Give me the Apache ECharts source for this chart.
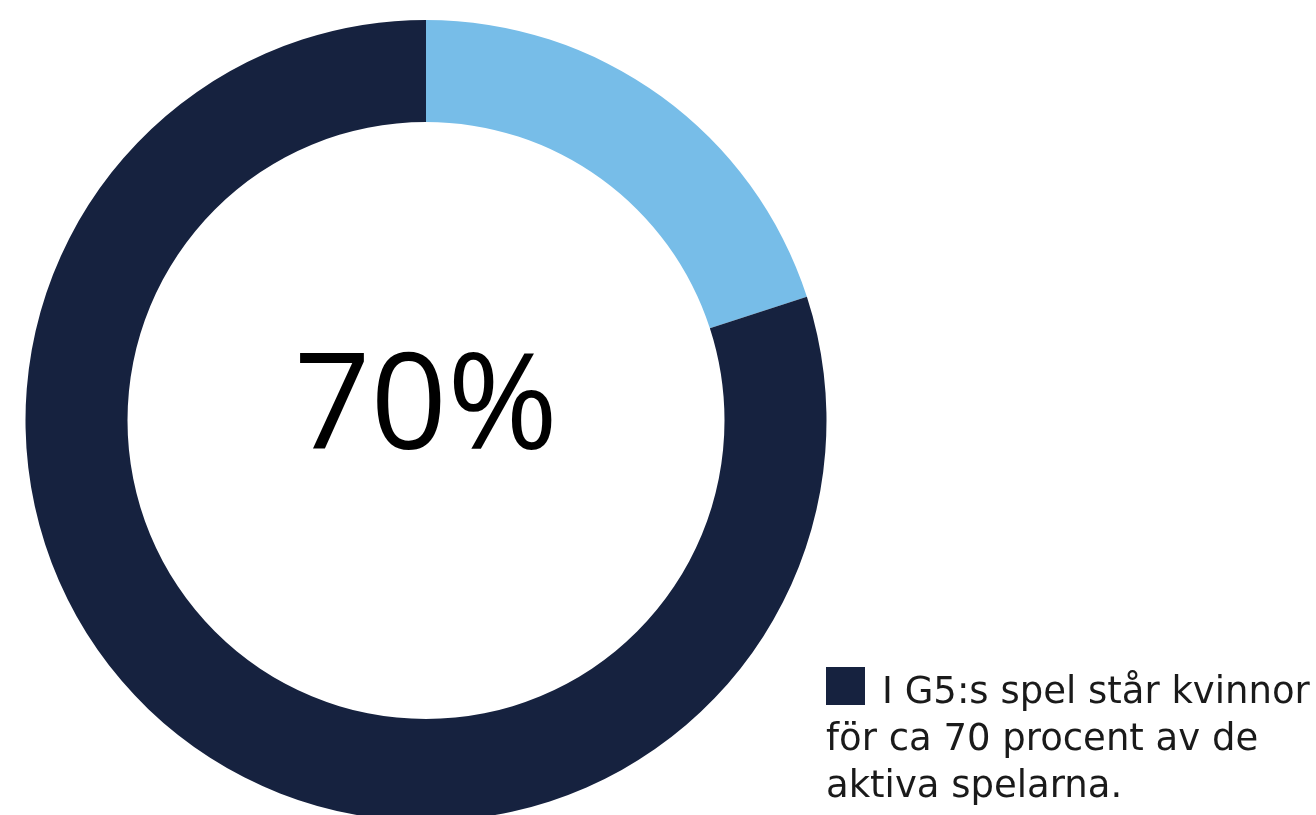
<!DOCTYPE html>
<html>
<head>
<meta charset="utf-8">
<script src="https://cdn.jsdelivr.net/npm/echarts@6/dist/echarts.min.js"></script>
<style>
  html, body { margin: 0; padding: 0; background: #ffffff; }
  #chart { width: 1316px; height: 815px; }
</style>
</head>
<body>
<div id="chart"></div>
<script>
// Share of active players in G5's games
const categories = ['Övriga', 'Kvinnor'];
const values = [20, 80];
const colors = ['#77BDE8', '#16223F'];
const centerLabel = '70%';
const legendLines = ['I G5:s spel står kvinnor', 'för ca 70 procent av de', 'aktiva spelarna.'];

const CENTER_FONT = '"Open Sans", "Noto Sans", sans-serif';
const TEXT_FONT = '"DejaVu Sans", "Open Sans", sans-serif';
const TEXT_SIZE = 37;

const chart = echarts.init(document.getElementById('chart'), null, { renderer: 'canvas' });

chart.setOption({
  animation: false,
  backgroundColor: '#ffffff',
  // legend swatch only; its caption is set as a hanging block below
  legend: {
    data: [categories[1]],
    left: 826,
    top: 667,
    padding: 0,
    itemWidth: 39,
    itemHeight: 38,
    icon: 'rect',
    formatter: () => '',
    textStyle: { fontSize: 10 }
  },
  graphic: [
    {
      type: 'text',
      x: 426,
      y: 411,
      style: {
        text: centerLabel,
        fontFamily: CENTER_FONT,
        fontSize: 134,
        fill: '#000000',
        textAlign: 'center',
        textVerticalAlign: 'middle'
      }
    },
    {
      type: 'text',
      x: 882,
      y: 693,
      style: {
        text: legendLines[0],
        fontFamily: TEXT_FONT,
        fontSize: TEXT_SIZE,
        fill: '#1a1a1a',
        textVerticalAlign: 'middle'
      }
    },
    {
      type: 'text',
      x: 826,
      y: 717,
      style: {
        text: legendLines.slice(1).join('\n'),
        fontFamily: TEXT_FONT,
        fontSize: TEXT_SIZE,
        lineHeight: 47,
        fill: '#1a1a1a',
        textVerticalAlign: 'top'
      }
    }
  ],
  series: [
    {
      type: 'pie',
      center: [426, 420.5],
      radius: [298.5, 400.5],
      startAngle: 90,
      clockwise: true,
      label: { show: false },
      labelLine: { show: false },
      emphasis: { disabled: true },
      itemStyle: { borderWidth: 0 },
      data: categories.map((name, i) => ({
        name,
        value: values[i],
        itemStyle: { color: colors[i] }
      }))
    }
  ]
});
</script>
</body>
</html>
